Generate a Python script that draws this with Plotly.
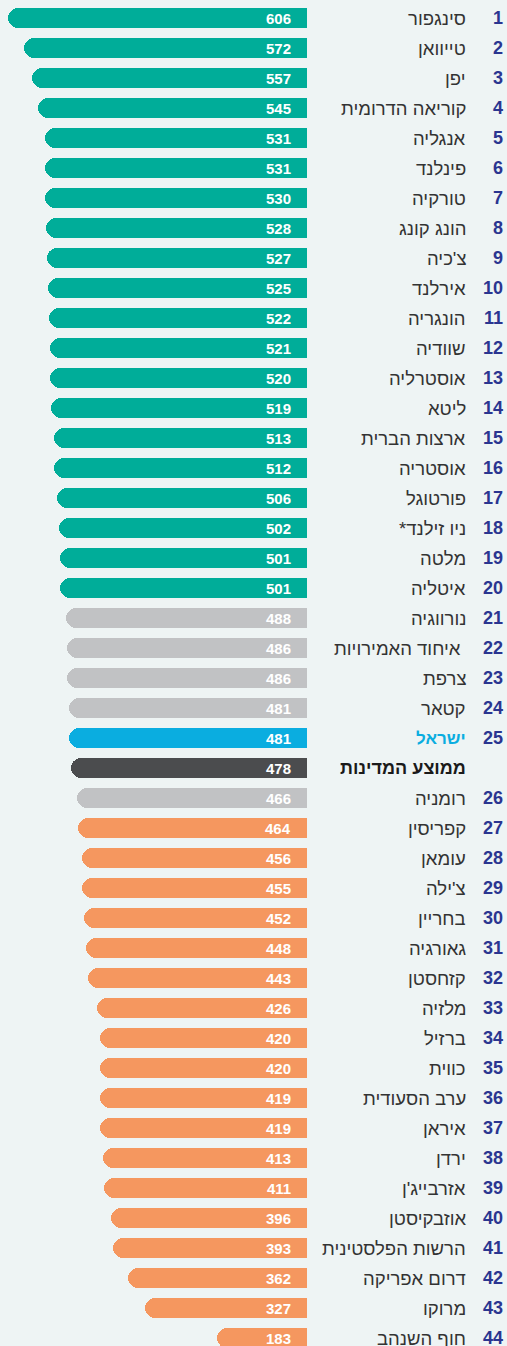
import plotly.graph_objects as go

countries = ["סינגפור", "טייוואן", "יפן", "קוריאה הדרומית", "אנגליה", "פינלנד", "טורקיה",
             "הונג קונג", "צ'כיה", "אירלנד", "הונגריה", "שוודיה", "אוסטרליה", "ליטא",
             "ארצות הברית", "אוסטריה", "פורטוגל", "*ניו זילנד", "מלטה", "איטליה",
             "נורווגיה", "איחוד האמירויות\u00a0", "צרפת", "קטאר", "ישראל",
             "ממוצע המדינות",
             "רומניה", "קפריסין", "עומאן", "צ'ילה", "בחריין", "גאורגיה", "קזחסטן",
             "מלזיה", "ברזיל", "כווית", "ערב הסעודית", "איראן", "ירדן", "אזרבייג'ן",
             "אוזבקיסטן", "הרשות הפלסטינית", "דרום אפריקה", "מרוקו", "חוף השנהב"]
ranks = [str(i) for i in range(1, 26)] + [""] + [str(i) for i in range(26, 45)]
values = [606, 572, 557, 545, 531, 531, 530, 528, 527, 525, 522, 521, 520, 519, 513, 512,
          506, 502, 501, 501, 488, 486, 486, 481, 481, 478, 466, 464, 456, 455, 452, 448,
          443, 426, 420, 420, 419, 419, 413, 411, 396, 393, 362, 327, 183]
groups = ["top"] * 20 + ["mid"] * 4 + ["israel", "avg", "mid"] + ["low"] * 18

COLORS = {"top": "#00ad99", "mid": "#c1c2c4", "israel": "#0aade0",
          "avg": "#4b4c4e", "low": "#f5975f"}
BG = "#eef4f4"
W, H = 507, 1346
BAR_END_PX = 307
PX_PER_UNIT = 0.494
ROW0_PX, ROW_PITCH = 18, 30

pos = list(range(len(values)))
colors = [COLORS[g] for g in groups]

fig = go.Figure()
fig.add_trace(go.Bar(
    x=values, y=pos, orientation="h",
    marker=dict(color=colors, cornerradius=10, line=dict(width=0)),
    width=20 / ROW_PITCH, hoverinfo="skip", showlegend=False,
))

ann = []
for p, v, c, r, g in zip(pos, values, countries, ranks, groups):
    ann.append(dict(x=293 / W, y=p, xref="paper", yref="y", text=f"<b>{v}</b>",
                    xanchor="right", yanchor="middle", showarrow=False,
                    font=dict(family="Liberation Sans", size=15, color="white")))
    if g == "israel":
        cfont = dict(family="Liberation Sans", size=17, color="#0aade0")
        ctext = f"<b>{c}</b>"
    elif g == "avg":
        cfont = dict(family="Liberation Sans", size=18, color="#1a1a1a")
        ctext = f"<b>{c}</b>"
    else:
        cfont = dict(family="Liberation Sans", size=18.5, color="#333333")
        ctext = c
    ann.append(dict(x=468 / W, y=p, xref="paper", yref="y", text=ctext,
                    xanchor="right", yanchor="middle", showarrow=False, font=cfont))
    if r:
        ann.append(dict(x=505 / W, y=p, xref="paper", yref="y", text=f"<b>{r}</b>",
                        xanchor="right", yanchor="middle", showarrow=False,
                        font=dict(family="Liberation Sans", size=18, color="#2a3590")))

fig.update_layout(
    width=W, height=H, margin=dict(l=0, r=0, t=0, b=0),
    paper_bgcolor=BG, plot_bgcolor=BG,
    xaxis=dict(domain=[0, BAR_END_PX / W], range=[BAR_END_PX / PX_PER_UNIT, 0],
               visible=False, fixedrange=True),
    yaxis=dict(range=[(H - ROW0_PX) / ROW_PITCH, -ROW0_PX / ROW_PITCH],
               visible=False, fixedrange=True),
    annotations=ann, bargap=0,
)
fig.write_html(
    "out.html",
    config={"displayModeBar": False},
    post_script="document.documentElement.style.margin='0';document.body.style.margin='0';"
                "document.body.style.overflow='hidden';document.documentElement.style.overflow='hidden';",
)
